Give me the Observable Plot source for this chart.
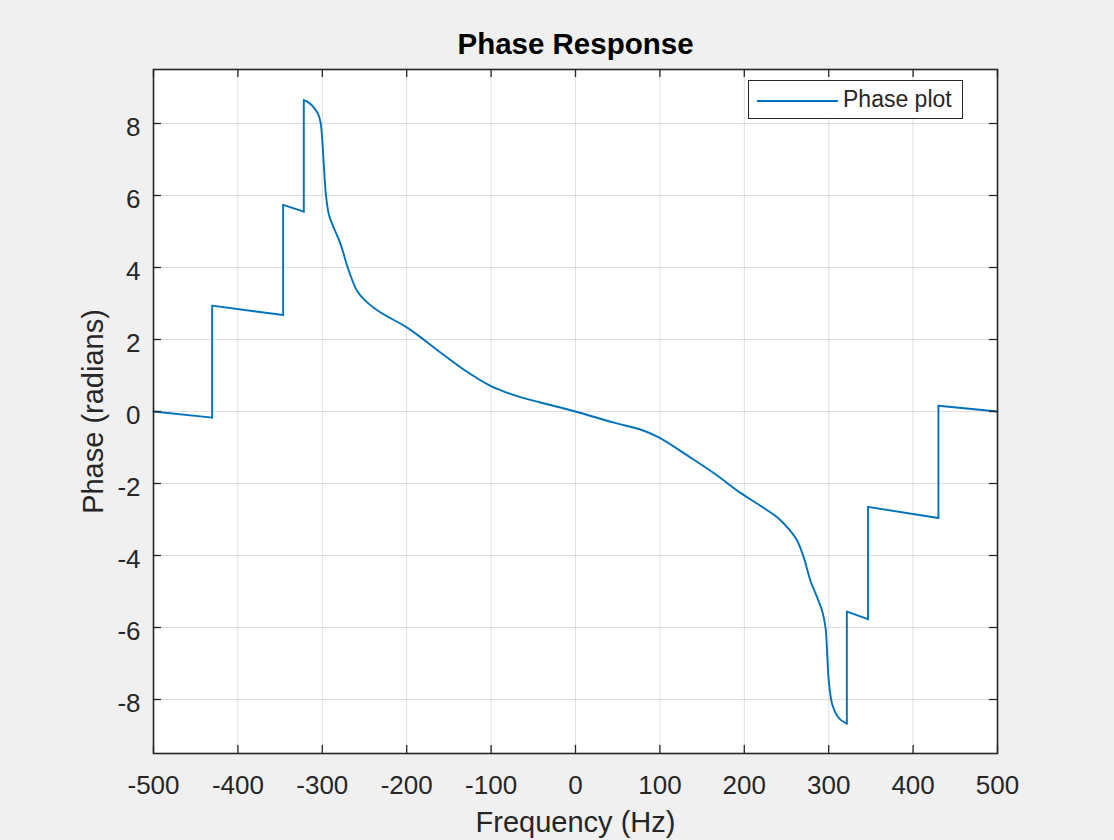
<!DOCTYPE html>
<html>
<head>
<meta charset="utf-8">
<script src="https://cdn.jsdelivr.net/npm/d3@7"></script>
<script src="https://cdn.jsdelivr.net/npm/@observablehq/plot@0.6"></script>
<style>
  html, body { margin: 0; padding: 0; background: #f0f0f0; overflow: hidden; }
  #wrap { position: relative; width: 1114px; height: 840px; }
  #wrap svg { display: block; }
  #legend {
    position: absolute; left: 748px; top: 80px; width: 215px; height: 39px;
    background: #fff; border: 1.5px solid #262626; box-sizing: border-box;
    font-family: "Liberation Sans", Arial, Helvetica, sans-serif; font-size: 23px; color: #262626;
  }
  #legend .sw { position: absolute; left: 8px; top: 19px; width: 81px; height: 2px; background: #0072BD; }
  #legend .lbl { position: absolute; left: 94px; top: 5px; line-height: 26px; white-space: nowrap; }
</style>
</head>
<body>
<div id="wrap"></div>
<script>
// Frequency (Hz) and phase (radians)
const freq = [
  -500, -430.5, -430.5, -346.4, -346.4, -321.9, -321.9, -316.0, -310.0, -304.9,
  -302.1, -300.9, -299.4, -297.8, -295.8, -292.3, -288.3, -278.4, -268.6, -258.7,
  -246.8, -231.0, -199.4, -160.0, -130.3, -100.7, -71.1, -41.5, 0, 45.4,
  77.0, 98.7, 136.3, 165.0, 195.5, 219.2, 239.0,
  252.8, 262.7, 270.5, 278.4, 286.4, 292.3, 296.2, 298.2, 300.1, 304.1,
  310.0, 315.0, 321.5, 321.5, 346.6, 346.6, 430.0, 430.0, 500
];
const phase = [
  0.00, -0.17, 2.94, 2.68, 5.74, 5.55, 8.65, 8.58, 8.44, 8.26,
  8.03, 7.80, 7.33, 6.69, 6.04, 5.48, 5.21, 4.65, 3.91, 3.35,
  3.03, 2.75, 2.33, 1.64, 1.13, 0.71, 0.44, 0.25, 0.00, -0.31,
  -0.50, -0.72, -1.28, -1.73, -2.26, -2.62, -2.94,
  -3.27, -3.59, -4.06, -4.70, -5.17, -5.54, -6.00, -6.74, -7.48, -8.13,
  -8.45, -8.58, -8.67, -5.56, -5.77, -2.65, -2.96, 0.16, 0.00
];
const xTicks = [-500, -400, -300, -200, -100, 0, 100, 200, 300, 400, 500];
const yTicks = [-8, -6, -4, -2, 0, 2, 4, 6, 8];
const titleText = "Phase Response";
const xLabel = "Frequency (Hz)";
const yLabel = "Phase (radians)";
const seriesName = "Phase plot";

// Split into smooth pieces and vertical jumps (a jump = two samples at the same frequency)
const rows = [];
let seg = 0;
for (let i = 0; i < freq.length; i++) {
  if (i > 0 && freq[i] === freq[i - 1]) {
    seg++;
    rows.push({f: freq[i - 1], p: phase[i - 1], s: seg});
    rows.push({f: freq[i], p: phase[i], s: seg});
    seg++;
  }
  rows.push({f: freq[i], p: phase[i], s: seg});
}

const W = 1114, H = 840, mL = 153, mR = 117, mT = 69, mB = 87;
const plotW = W - mL - mR, plotH = H - mT - mB;
const ink = "#262626";
const font = "Liberation Sans, Arial, Helvetica, sans-serif";

const chart = Plot.plot({
  width: W, height: H,
  marginLeft: mL, marginRight: mR, marginTop: mT, marginBottom: mB,
  style: {background: "#f0f0f0", fontFamily: font, color: ink},
  x: {domain: [-500, 500]},
  y: {domain: [-9.5, 9.5]},
  marks: [
    Plot.frame({fill: "white", stroke: null}),
    Plot.ruleX(xTicks, {x: d => d, stroke: ink, strokeOpacity: 0.15}),
    Plot.ruleY(yTicks, {y: d => d, stroke: ink, strokeOpacity: 0.15}),
    Plot.line(rows, {x: "f", y: "p", z: "s", curve: "catmull-rom", stroke: "#0072BD", strokeWidth: 1.9, strokeLinecap: "round", strokeLinejoin: "round"}),
    Plot.tickX(xTicks, {x: d => d, stroke: ink, strokeWidth: 1.3, insetTop: plotH - 8}),
    Plot.tickX(xTicks, {x: d => d, stroke: ink, strokeWidth: 1.3, insetBottom: plotH - 8}),
    Plot.tickY(yTicks, {y: d => d, stroke: ink, strokeWidth: 1.3, insetRight: plotW - 8}),
    Plot.tickY(yTicks, {y: d => d, stroke: ink, strokeWidth: 1.3, insetLeft: plotW - 8}),
    Plot.frame({stroke: ink, strokeWidth: 1.6}),
    Plot.axisX({ticks: xTicks, tickSize: 0, tickPadding: 22, fontSize: 26, fill: ink, label: null, tickFormat: d => String(d)}),
    Plot.axisY({ticks: yTicks, tickSize: 0, tickPadding: 13, fontSize: 26, fill: ink, label: null, dy: 4, tickFormat: d => String(d)}),
    Plot.text([titleText], {text: d => d, frameAnchor: "top", dy: -36, fontSize: 29.5, fontWeight: "bold", fill: "black"}),
    Plot.text([xLabel], {text: d => d, frameAnchor: "bottom", dy: 78, fontSize: 29, fill: ink}),
    Plot.text([yLabel], {text: d => d, frameAnchor: "left", textAnchor: "middle", dx: -60, rotate: -90, fontSize: 29, fill: ink})
  ]
});

const wrap = document.getElementById("wrap");
wrap.appendChild(chart);
const legend = document.createElement("div");
legend.id = "legend";
legend.innerHTML = '<div class="sw"></div><div class="lbl"></div>';
legend.querySelector(".lbl").textContent = seriesName;
wrap.appendChild(legend);
</script>
</body>
</html>
